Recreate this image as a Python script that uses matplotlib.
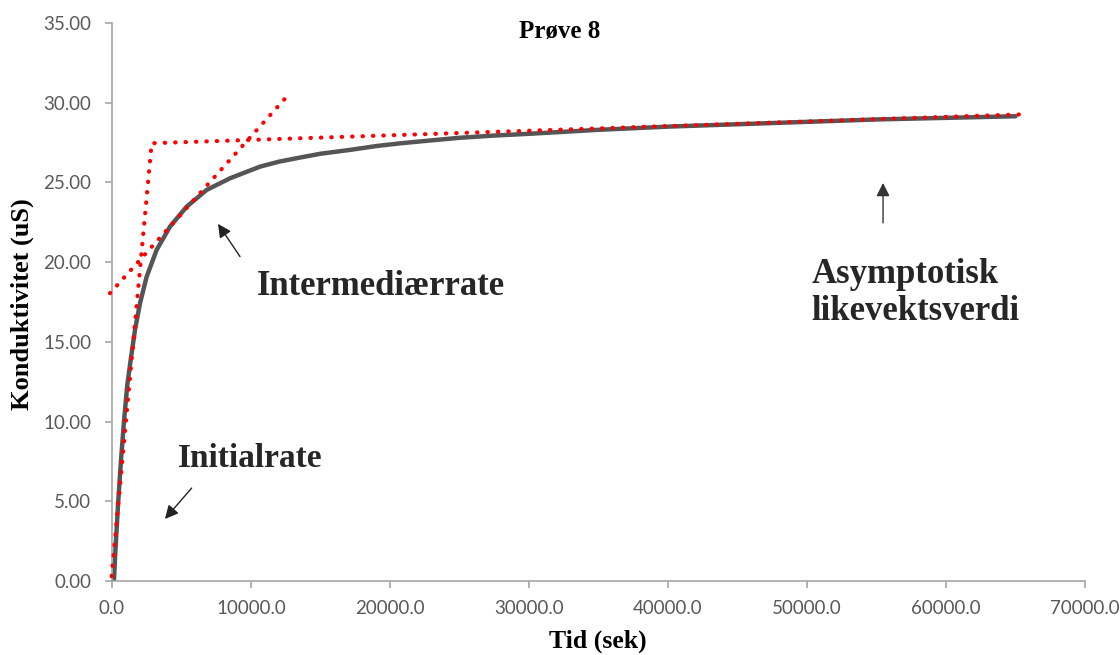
import numpy as np
import matplotlib
matplotlib.use("Agg")
import matplotlib.pyplot as plt
from matplotlib.ticker import FormatStrFormatter, MultipleLocator

tid = [140, 250, 450, 650, 860, 1100, 1343, 1655, 2015, 2494, 3213, 4173, 5371,
       6811, 8489, 10647, 12000, 13285, 15000, 17122, 19000, 20700, 22500, 25000,
       27500, 30000, 35000, 40000, 45000, 50000, 55000, 60000, 65000]
kond = [0.0, 2.0, 5.0, 7.6, 10.0, 12.3, 13.86, 15.75, 17.42, 19.09, 20.77, 22.23,
        23.48, 24.53, 25.26, 25.99, 26.3, 26.52, 26.8, 27.04, 27.28, 27.45, 27.6,
        27.8, 27.94, 28.05, 28.3, 28.5, 28.65, 28.8, 28.95, 29.05, 29.15]

# hand drawn tangent lines
init_t = [-30, 2854, 65500]
init_k = [0.3, 27.46, 29.27]
mid_t = [-144, 12800]
mid_k = [18.05, 30.6]

SERIF = ["Liberation Serif", "DejaVu Serif"]
TICKFONT = ["Lato", "DejaVu Sans"]
TXT = "#262626"

fig = plt.figure(figsize=(11.2, 6.55), dpi=100)
ax = fig.add_axes([112/1120, 74/655, 973/1120, 558/655])

# data + tangents
ax.plot(tid, kond, color="#555555", lw=3.2, solid_capstyle="round",
        solid_joinstyle="round", zorder=2)
red = dict(color="red", lw=3, linestyle=(0, (0.1, 2.4)), dash_capstyle="round",
           clip_on=False, zorder=3)
ax.plot(init_t, init_k, **red)
ax.plot(mid_t, mid_k, **red)

# axes look
ax.set_xlim(0, 70000)
ax.set_ylim(0, 35)
ax.xaxis.set_major_locator(MultipleLocator(10000))
ax.yaxis.set_major_locator(MultipleLocator(5))
ax.xaxis.set_major_formatter(FormatStrFormatter("%.1f"))
ax.yaxis.set_major_formatter(FormatStrFormatter("%.2f"))
for s in ["top", "right"]:
    ax.spines[s].set_visible(False)
for s in ["left", "bottom"]:
    ax.spines[s].set_color("#a6a6a6")
    ax.spines[s].set_linewidth(1.2)
ax.tick_params(axis="both", colors="#a6a6a6", length=5, width=1.2,
               labelcolor="#595959", labelsize=13.5)
ax.tick_params(axis="y", pad=10)
ax.tick_params(axis="x", pad=9)
for lab in ax.get_xticklabels() + ax.get_yticklabels():
    lab.set_family(TICKFONT)

# titles
fig.text(560/1120, 1 - 38/655, "Prøve 8", family=SERIF, weight="bold",
         fontsize=18, ha="center", va="baseline", color="black")
fig.text(598/1120, 1 - 648/655, "Tid (sek)", family=SERIF, weight="bold",
         fontsize=18.5, ha="center", va="baseline", color="black")
fig.text(22/1120, 1 - 304/655, "Konduktivitet (uS)", family=SERIF, weight="bold",
         fontsize=19, rotation=90, ha="center", va="center", color="black")

# annotations
arrow = dict(arrowstyle="-|>", color="#222222", lw=1, mutation_scale=20,
             shrinkA=0, shrinkB=0)
ax.annotate("", xy=(3810, 3.89), xytext=(5730, 5.83), arrowprops=arrow)
ax.annotate("", xy=(7625, 22.4), xytext=(9210, 20.35), arrowprops=arrow)
ax.annotate("", xy=(55470, 24.97), xytext=(55470, 22.46),
            arrowprops=dict(arrow, color="#333333"))

ax.text(4750, 7.15, "Initialrate", family=SERIF, weight="bold", fontsize=24,
        color=TXT, va="baseline", ha="left")
ax.text(10410, 17.94, "Intermediærrate", family=SERIF, weight="bold", fontsize=25,
        color=TXT, va="baseline", ha="left")
ax.text(50330, 18.7, "Asymptotisk", family=SERIF, weight="bold", fontsize=25,
        color=TXT, va="baseline", ha="left")
ax.text(50330, 16.37, "likevektsverdi", family=SERIF, weight="bold", fontsize=25,
        color=TXT, va="baseline", ha="left")

fig.savefig("out.png", dpi=100)
